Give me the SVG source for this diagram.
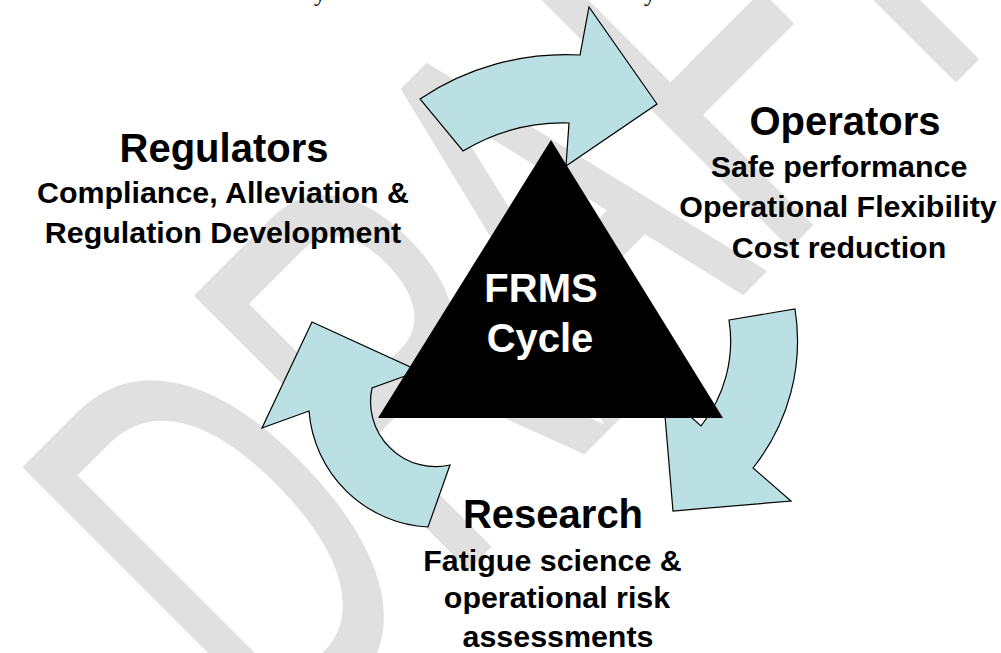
<svg xmlns="http://www.w3.org/2000/svg" width="1001" height="653" viewBox="0 0 1001 653">
<style>
.wm{font-family:"Liberation Sans",Arial,sans-serif;font-size:560px;fill:#e0e0e0;stroke:#e0e0e0;stroke-width:3;stroke-linejoin:round}
.arrow{fill:#bbe0e3;stroke:#000;stroke-width:1.2;stroke-linejoin:miter}
.h{font-family:"Liberation Sans",Arial,sans-serif;font-weight:bold;font-size:40px;fill:#000;text-anchor:middle}
.s{font-family:"Liberation Sans",Arial,sans-serif;font-weight:bold;font-size:30.4px;fill:#000;text-anchor:middle}
.c{font-family:"Liberation Sans",Arial,sans-serif;font-weight:bold;font-size:40px;fill:#fff;text-anchor:middle}
.top{font-family:"Liberation Serif","Times New Roman",serif;font-size:24px;fill:#000}
</style>
<rect width="1001" height="653" fill="#fff"/>
<g id="watermark">
<text class="wm" transform="translate(277,759.5) rotate(-45) scale(0.6,1)" x="0" y="0">DR<tspan dx="-30">A</tspan><tspan dx="10">F</tspan><tspan dx="-50">T</tspan></text>
</g>
<g id="cut-text">
<text class="top" x="314" y="0.5">y</text>
<text class="top" x="644" y="0.5">y</text>
</g>
<g id="connectors">
<path id="arrow-top" class="arrow" d="M420,99 A261,261 0 0 1 580,55 L589,7 L657,104 L566,166 L569,123 A194,194 0 0 0 463,151 Z"/>
<path id="arrow-right" class="arrow" d="M729,320 L795,309 A203.5,203.5 0 0 1 753,468 L791,501 L673,511 L663,392 L701,426 A136,136 0 0 0 729,320 Z"/>
<path id="arrow-left" class="arrow" d="M450,465 L428,527 A126,126 0 0 1 309,411 L262,428 L312,322 L419,371 L372,388 A65,65 0 0 0 450,465 Z"/>
</g>
<g id="frms-cycle">
<polygon points="551,140 378,418 723,418" fill="#000"/>
<text class="c" x="541" y="302">FRMS</text>
<text class="c" x="540" y="352">Cycle</text>
</g>
<g id="regulators">
<text class="h" x="224" y="162">Regulators</text>
<text class="s" x="223" y="203">Compliance, Alleviation &amp;</text>
<text class="s" x="223" y="243">Regulation Development</text>
</g>
<g id="operators">
<text class="h" x="845" y="135">Operators</text>
<text class="s" x="839" y="177">Safe performance</text>
<text class="s" x="838" y="217">Operational Flexibility</text>
<text class="s" x="839" y="258">Cost reduction</text>
</g>
<g id="research">
<text class="h" x="553" y="528">Research</text>
<text class="s" x="552.5" y="571">Fatigue science &amp;</text>
<text class="s" x="557" y="608">operational risk</text>
<text class="s" x="558" y="647">assessments</text>
</g>
</svg>
